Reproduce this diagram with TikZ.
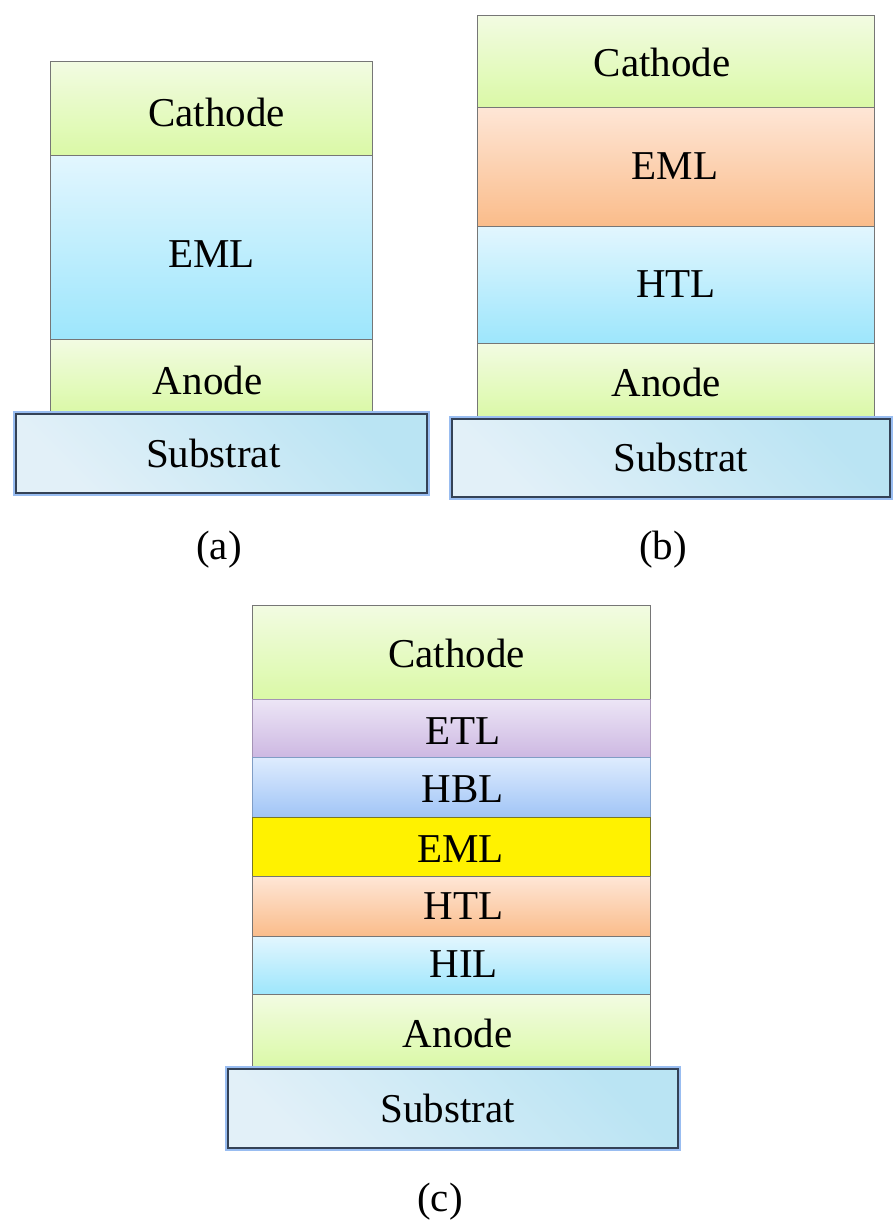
\documentclass[tikz,border=0pt]{standalone}
\usepackage{fontspec}
\setmainfont{Liberation Serif}
\definecolor{grnT}{RGB}{242,251,226}
\definecolor{grnB}{RGB}{218,249,166}
\definecolor{bluT}{RGB}{226,246,254}
\definecolor{bluB}{RGB}{157,230,252}
\definecolor{orgT}{RGB}{254,230,214}
\definecolor{orgB}{RGB}{250,188,138}
\definecolor{purT}{RGB}{236,229,246}
\definecolor{purB}{RGB}{205,184,226}
\definecolor{hblT}{RGB}{222,236,254}
\definecolor{hblB}{RGB}{160,196,246}
\definecolor{subL}{RGB}{226,240,248}
\definecolor{subR}{RGB}{186,228,243}
\definecolor{glow}{RGB}{110,160,235}
\definecolor{edge}{RGB}{118,118,118}
\definecolor{subedge}{RGB}{52,66,86}
\definecolor{ylwedge}{RGB}{120,120,40}
\begin{document}
\begin{tikzpicture}[x=1pt,y=-1pt,
  every node/.style={font=\fontsize{41}{48}\selectfont, inner sep=0pt},
  lay/.style={draw=edge, line width=1.2pt, rectangle, anchor=north west},
  txt/.style n args={3}{label={[xshift=#1pt, yshift=-#2pt, text height=27.5pt, text depth=0pt]center:#3}},
  grn/.style={top color=grnT, bottom color=grnB},
  blu/.style={top color=bluT, bottom color=bluB},
  org/.style={top color=orgT, bottom color=orgB},
  pur/.style={top color=purT, bottom color=purB, draw=purB!80!black},
  hbl/.style={top color=hblT, bottom color=hblB, draw=hblB!80!black},
  ylw/.style={fill=yellow, draw=ylwedge},
  sub/.style={rectangle, anchor=north west, draw=subedge, line width=1.6pt,
              top color=subR, bottom color=subL, shading angle=-45,
              preaction={draw=glow!70, line width=6.5pt}},
  figlabel/.style={}
]
\useasboundingbox (0,0) rectangle (894,1222);

% ---------- (a) ----------
\node[lay, grn, minimum width=322pt, minimum height=94pt,  txt={5}{4}{Cathode}] (aCat) at (50,61)  {};
\node[lay, blu, minimum width=322pt, minimum height=184pt, txt={0}{6}{EML}]     (aEml) at (50,155) {};
\node[lay, grn, minimum width=322pt, minimum height=74pt,  txt={-4}{4}{Anode}]  (aAno) at (50,339) {};
\node[sub, minimum width=411pt, minimum height=79pt, txt={-8}{0}{Substrat}] (aSub) at (15,413) {};
\node[figlabel] (la) at (219,550) {(a)};

% ---------- (b) ----------
\node[lay, grn, minimum width=397pt, minimum height=92pt,  txt={-14}{1}{Cathode}] (bCat) at (477,15)  {};
\node[lay, org, minimum width=397pt, minimum height=119pt, txt={-1}{-1}{EML}]     (bEml) at (477,107) {};
\node[lay, blu, minimum width=397pt, minimum height=117pt, txt={0}{-1}{HTL}]      (bHtl) at (477,226) {};
\node[lay, grn, minimum width=397pt, minimum height=75pt,  txt={-10}{2}{Anode}]   (bAno) at (477,343) {};
\node[sub, minimum width=438pt, minimum height=78pt, txt={10}{0}{Substrat}] (bSub) at (451,418) {};
\node[figlabel] (lb) at (663,550) {(b)};

% ---------- (c) ----------
\node[lay, grn, minimum width=398pt, minimum height=94pt, txt={5}{1}{Cathode}] (cCat) at (252,605) {};
\node[lay, pur, minimum width=398pt, minimum height=58pt, txt={11}{2}{ETL}]    (cEtl) at (252,699) {};
\node[lay, hbl, minimum width=398pt, minimum height=60pt, txt={11}{1}{HBL}]    (cHbl) at (252,757) {};
\node[lay, ylw, minimum width=398pt, minimum height=59pt, txt={9}{2}{EML}]     (cEml) at (252,817) {};
\node[lay, org, minimum width=398pt, minimum height=60pt, txt={12}{-1}{HTL}]   (cHtl) at (252,876) {};
\node[lay, blu, minimum width=398pt, minimum height=58pt, txt={12}{-2}{HIL}]   (cHil) at (252,936) {};
\node[lay, grn, minimum width=398pt, minimum height=74pt, txt={6}{2}{Anode}]   (cAno) at (252,994) {};
\node[sub, minimum width=450pt, minimum height=79pt, txt={-5}{0}{Substrat}] (cSub) at (227,1068) {};
\node[figlabel] (lc) at (440,1202) {(c)};
\end{tikzpicture}
\end{document}
